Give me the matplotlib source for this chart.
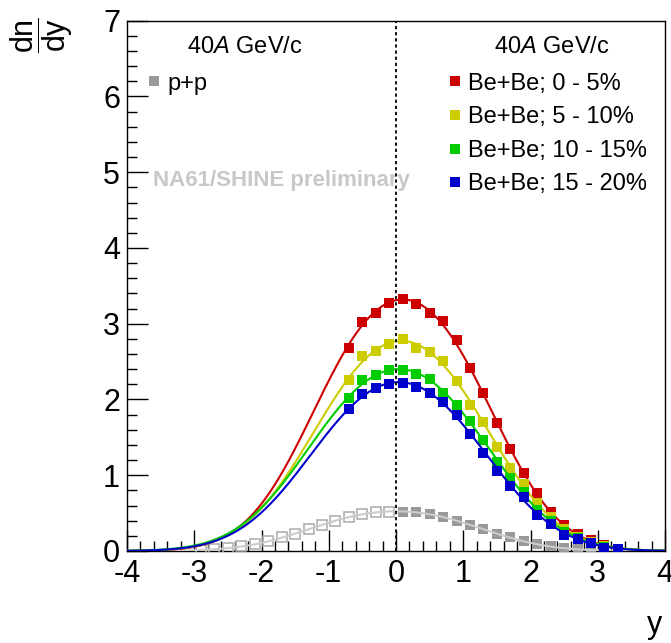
import numpy as np
import matplotlib
matplotlib.use('Agg')
import matplotlib.pyplot as plt
from matplotlib.ticker import MultipleLocator

plt.rcParams['font.family'] = ['Liberation Sans', 'DejaVu Sans']
plt.rcParams['mathtext.fontset'] = 'custom'
plt.rcParams['mathtext.rm'] = 'Liberation Sans'
plt.rcParams['mathtext.it'] = 'Liberation Sans:italic'
plt.rcParams['axes.unicode_minus'] = False

# Be+Be rapidity bins (bin centres)
y_bebe = [-0.7, -0.5, -0.3, -0.1, 0.1, 0.3, 0.5, 0.7, 0.9, 1.1, 1.3,
          1.5, 1.7, 1.9, 2.1, 2.3, 2.5, 2.7, 2.9, 3.1, 3.3]
dndy_0_5 = [2.68, 3.02, 3.14, 3.28, 3.32, 3.26, 3.14, 3.04, 2.78, 2.41, 2.08,
            1.69, 1.34, 1.03, 0.76, 0.52, 0.34, 0.22, 0.14, 0.08, 0.03]
dndy_5_10 = [2.26, 2.57, 2.64, 2.73, 2.80, 2.68, 2.63, 2.51, 2.25, 1.93, 1.70,
             1.37, 1.10, 0.88, 0.63, 0.45, 0.29, 0.19, 0.12, 0.06, 0.03]
dndy_10_15 = [2.02, 2.26, 2.32, 2.39, 2.39, 2.33, 2.27, 2.08, 1.93, 1.72, 1.46,
              1.18, 0.97, 0.78, 0.54, 0.40, 0.25, 0.17, 0.11, 0.05, 0.02]
dndy_15_20 = [1.88, 2.07, 2.15, 2.21, 2.22, 2.16, 2.09, 1.97, 1.80, 1.55, 1.29,
              1.06, 0.86, 0.71, 0.48, 0.35, 0.21, 0.16, 0.10, 0.04, 0.02]

# p+p, measured in forward hemisphere, reflected around y=0
y_pp = [0.1, 0.3, 0.5, 0.7, 0.9, 1.1, 1.3, 1.5, 1.7, 1.9, 2.1, 2.3, 2.5, 2.7, 2.9]
dndy_pp = [0.52, 0.51, 0.49, 0.45, 0.40, 0.34, 0.29, 0.22, 0.18, 0.13,
           0.09, 0.06, 0.035, 0.02, 0.015]

bebe_labels = ['Be+Be; 0 - 5%', 'Be+Be; 5 - 10%', 'Be+Be; 10 - 15%', 'Be+Be; 15 - 20%']
bebe_colors = ['#cc0000', '#cccc00', '#00cc00', '#0000cc']


def fit_double_gauss(x, v):
    # symmetric double gaussian, brute force over shape params, amplitude analytic
    x = np.asarray(x, float)
    v = np.asarray(v, float)
    c = np.arange(-0.3, 0.301, 0.02)
    m = np.arange(0.0, 1.6, 0.02)
    s = np.arange(0.3, 1.6, 0.02)
    C, M, S = np.meshgrid(c, m, s, indexing='ij')
    C, M, S = C[..., None], M[..., None], S[..., None]
    g = np.exp(-(x - C - M)**2 / (2 * S**2)) + np.exp(-(x - C + M)**2 / (2 * S**2))
    A = (g * v).sum(-1) / (g * g).sum(-1)
    chi = ((A[..., None] * g - v)**2).sum(-1)
    i = np.unravel_index(chi.argmin(), chi.shape)
    a, c0, m0, s0 = A[i], C[i][0], M[i][0], S[i][0]
    return lambda t: a * (np.exp(-(t - c0 - m0)**2 / (2 * s0**2)) +
                          np.exp(-(t - c0 + m0)**2 / (2 * s0**2)))


fig = plt.figure(figsize=(6.71, 6.43), dpi=100)
ax = fig.add_axes([127/671, 1 - 551/643, 538/671, 530.3/643])

yy = np.linspace(-4, 4, 400)

# p+p
y_pp_refl = [-v for v in y_pp]
pp_fit = fit_double_gauss(y_pp + y_pp_refl, dndy_pp + dndy_pp)
pp_h, = ax.plot(y_pp, dndy_pp, ls='none', marker='s', ms=7.4, mew=0,
                color='#999999', zorder=3)
ax.plot(y_pp_refl, dndy_pp, ls='none', marker='s', ms=7.4, mew=1.1,
        mfc='none', mec='#aaaaaa', zorder=3)
ax.plot(yy, pp_fit(yy), color='#cccccc', lw=1.5, zorder=4)

# Be+Be centrality classes
handles = []
for k, vals in enumerate([dndy_0_5, dndy_5_10, dndy_10_15, dndy_15_20]):
    f = fit_double_gauss(y_bebe, vals)
    ax.plot(yy, f(yy), color=bebe_colors[k], lw=1.5, zorder=5 + 2 * k)
    h, = ax.plot(y_bebe, vals, ls='none', marker='s', ms=7.4, mew=0,
                 color=bebe_colors[k], zorder=6 + 2 * k)
    handles.append(h)

ax.axvline(0, color='k', lw=1.3, ls=(0, (1.8, 1.6)), zorder=20)

ax.set_xlim(-4, 4)
ax.set_ylim(0, 7)
ax.xaxis.set_major_locator(MultipleLocator(1))
ax.xaxis.set_minor_locator(MultipleLocator(0.2))
ax.yaxis.set_major_locator(MultipleLocator(1))
ax.yaxis.set_minor_locator(MultipleLocator(0.2))
ax.tick_params(which='both', direction='in', top=False, right=False, width=1,
               labelsize=22)
ax.tick_params(which='major', length=15)
ax.tick_params(which='minor', length=7)
ax.tick_params(axis='x', pad=6)
ax.tick_params(axis='y', pad=5)
for sp in ax.spines.values():
    sp.set_linewidth(1)

fig.text(662/671, 1 - 625/643, 'y', fontsize=22, ha='right', va='center')
fig.text(42/671, 1 - 35/643, r'$\dfrac{\mathrm{dn}}{\mathrm{dy}}$', fontsize=22,
         rotation=90, ha='center', va='center')

ax.text(0.219, 0.950, r'40$\mathit{A}$ GeV/c', transform=ax.transAxes,
        fontsize=17, ha='center', va='center')
ax.text(0.790, 0.950, r'40$\mathit{A}$ GeV/c', transform=ax.transAxes,
        fontsize=17, ha='center', va='center')
ax.text(0.048, 0.698, 'NA61/SHINE preliminary', transform=ax.transAxes,
        fontsize=16, fontweight='bold', color='#c8c8c8', ha='left', va='center')

leg_pp = ax.legend([pp_h], ['p+p'], loc='upper left', bbox_to_anchor=(0.0372, 0.902),
                   frameon=False, fontsize=17, borderpad=0, borderaxespad=0,
                   handlelength=0.6, handletextpad=0.25)
ax.add_artist(leg_pp)
ax.legend(handles, bebe_labels, loc='upper left', bbox_to_anchor=(0.5967, 0.902),
          frameon=False, fontsize=17, borderpad=0, borderaxespad=0,
          handlelength=0.6, handletextpad=0.25, labelspacing=0.49)

fig.savefig('out.png', dpi=100)
